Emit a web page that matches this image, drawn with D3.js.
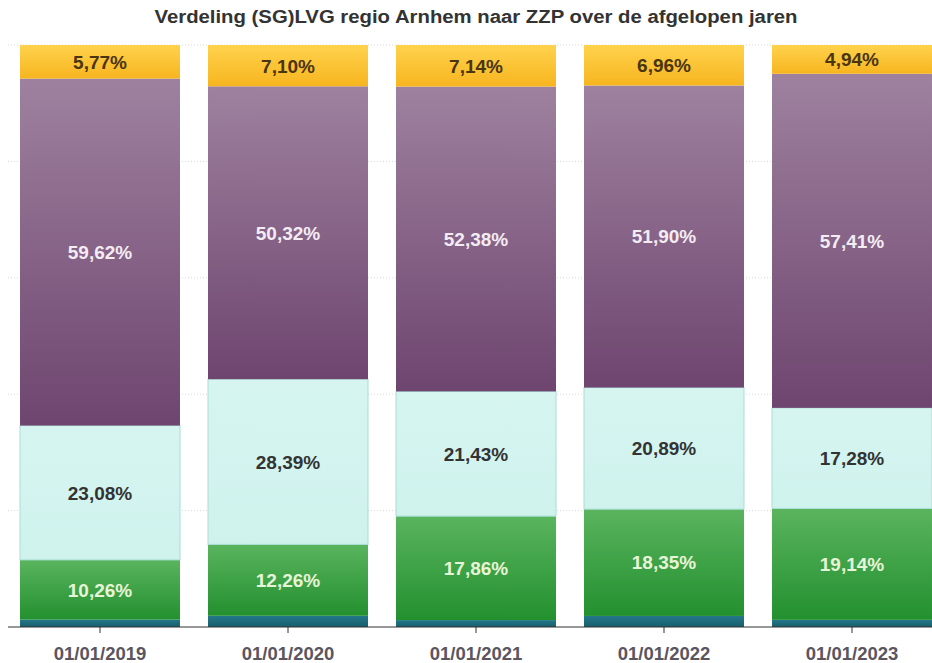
<!DOCTYPE html>
<html><head><meta charset="utf-8">
<script src="https://cdn.jsdelivr.net/npm/d3@7"></script>
<style>body{margin:0;background:#fff;font-family:"Liberation Sans",Arial,sans-serif;}</style>
</head><body><svg id="c" width="932" height="663"></svg>
<script>
const categories = ["01/01/2019","01/01/2020","01/01/2021","01/01/2022","01/01/2023"];
const seriesOverig = [1.27,1.93,1.19,1.90,1.23];
const seriesGroen = [10.26,12.26,17.86,18.35,19.14];
const seriesCyaan = [23.08,28.39,21.43,20.89,17.28];
const seriesPaars = [59.62,50.32,52.38,51.90,57.41];
const seriesGeel = [5.77,7.10,7.14,6.96,4.94];
const yTicks = [0,20,40,60,80,100];
const title = "Verdeling (SG)LVG regio Arnhem naar ZZP over de afgelopen jaren";

const series = [
  {key:"overig", values:seriesOverig, c1:"#23788a", c2:"#175f6c", label:false, tc:"#fff"},
  {key:"groen", values:seriesGroen, c1:"#5ab45e", c2:"#23902f", label:true, tc:"#e6f4d8"},
  {key:"cyaan", values:seriesCyaan, c1:"#d6f5f1", c2:"#cff2ed", label:true, tc:"#333333", stroke:"#a9ddd6"},
  {key:"paars", values:seriesPaars, c1:"#9e819f", c2:"#6e456f", label:true, tc:"#f3ecf3"},
  {key:"geel", values:seriesGeel, c1:"#ffd24d", c2:"#f7b51f", label:true, tc:"#4a3510"}
];

const svg = d3.select("#c");
const x = d3.scaleBand().domain(categories).range([6,946]).paddingInner(0.149).paddingOuter(0.0745);
const y = d3.scaleLinear().domain([0,100]).range([627,45]);

const defs = svg.append("defs");
series.forEach(s=>{
  const g = defs.append("linearGradient").attr("id","g-"+s.key).attr("x1",0).attr("y1",0).attr("x2",0).attr("y2",1);
  g.append("stop").attr("offset","0%").attr("stop-color",s.c1);
  g.append("stop").attr("offset","100%").attr("stop-color",s.c2);
});

// gridlines
svg.append("g").selectAll("line").data(yTicks.filter(d=>d>0)).join("line")
  .attr("x1",8).attr("x2",932).attr("y1",d=>y(d)).attr("y2",d=>y(d))
  .attr("stroke","#d8d8d8").attr("stroke-dasharray","1,2");

svg.append("text").attr("x",476).attr("y",23).attr("text-anchor","middle")
  .attr("font-size",18).attr("font-weight","bold").attr("fill","#333")
  .attr("textLength",643).attr("lengthAdjust","spacingAndGlyphs").text(title);

const rows = categories.map((c,i)=>{const o={cat:c}; series.forEach(s=>o[s.key]=s.values[i]); return o;});
const stack = d3.stack().keys(series.map(s=>s.key))(rows);

stack.forEach((layer,li)=>{
  const s = series[li];
  const g = svg.append("g");
  g.selectAll("rect").data(layer).join("rect")
    .attr("x",d=>x(d.data.cat)).attr("width",x.bandwidth())
    .attr("y",d=>y(d[1])).attr("height",d=>y(d[0])-y(d[1]))
    .attr("fill","url(#g-"+s.key+")")
    .attr("stroke",s.stroke||"none").attr("stroke-width",s.stroke?1:0);
  if(s.label){
    g.selectAll("text").data(layer).join("text")
      .attr("x",d=>x(d.data.cat)+x.bandwidth()/2)
      .attr("y",d=>(y(d[0])+y(d[1]))/2)
      .attr("dy","0.36em").attr("text-anchor","middle")
      .attr("font-size",19).attr("font-weight","bold").attr("fill",s.tc)
      .text(d=>(d[1]-d[0]).toFixed(2).replace(".",",")+"%");
  }
});

// x axis
const ax = svg.append("g").attr("transform","translate(0,627)");
ax.append("line").attr("x1",8).attr("x2",932).attr("stroke","#333").attr("stroke-width",1.2);
ax.selectAll("line.t").data(categories).join("line").attr("class","t")
  .attr("x1",d=>x(d)+x.bandwidth()/2).attr("x2",d=>x(d)+x.bandwidth()/2)
  .attr("y1",0).attr("y2",6).attr("stroke","#333");
ax.selectAll("text").data(categories).join("text")
  .attr("x",d=>x(d)+x.bandwidth()/2).attr("y",33).attr("text-anchor","middle")
  .attr("font-size",18.5).attr("font-weight","bold").attr("fill","#5a5560").text(d=>d);
</script></body></html>
